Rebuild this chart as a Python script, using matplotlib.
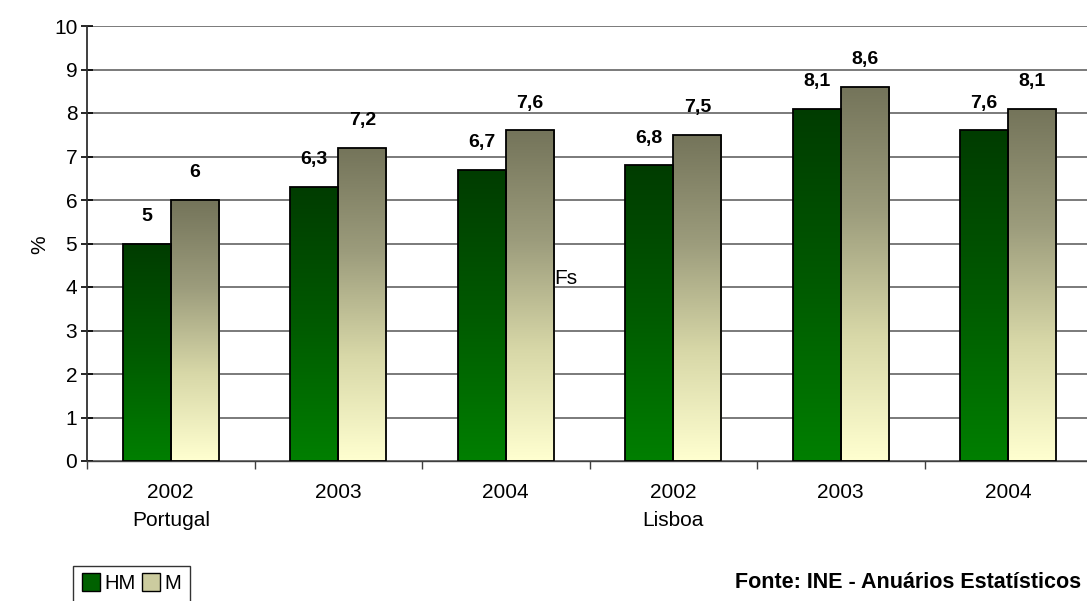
import matplotlib.pyplot as plt
import numpy as np
from matplotlib.colors import LinearSegmentedColormap
from matplotlib.patches import Rectangle
from matplotlib.legend_handler import HandlerBase

plt.rcParams['font.family'] = ['Liberation Sans', 'DejaVu Sans']

# ------------------------------------------------
# DATA
# ------------------------------------------------

years = ['2002', '2003', '2004', '2002', '2003', '2004']
regions = ['Portugal', 'Lisboa']
region_at = [0, 3]
hm = [5.0, 6.3, 6.7, 6.8, 8.1, 7.6]
m = [6.0, 7.2, 7.6, 7.5, 8.6, 8.1]
series = ['HM', 'M']

hm_cmap = LinearSegmentedColormap.from_list('hm', ['#007f00', '#005a00', '#003c00'])
m_cmap = LinearSegmentedColormap.from_list('m', ['#ffffd0', '#d8d8a8', '#9c9c7c', '#74745a'])

fig = plt.figure(figsize=(10.87, 6.01), dpi=100)
ax = fig.add_axes([87 / 1087, 140 / 601, 1005 / 1087, 435 / 601])

bar_w = 0.287
grad = np.linspace(0, 1, 256).reshape(-1, 1)


def gradient_bar(x0, h, cmap):
    im = ax.imshow(grad, cmap=cmap, origin='lower', aspect='auto',
                   extent=[x0, x0 + bar_w, 0, h], zorder=2)
    rect = Rectangle((x0, 0), bar_w, h, facecolor='none',
                     edgecolor='black', linewidth=1.3, zorder=3)
    ax.add_patch(rect)
    im.set_clip_path(rect)


def fmt(v):
    return ('%g' % v).replace('.', ',')


for i, (a, b) in enumerate(zip(hm, m)):
    x_hm = i + 0.5 - bar_w
    x_m = i + 0.5
    gradient_bar(x_hm, a, hm_cmap)
    gradient_bar(x_m, b, m_cmap)
    for x0, v in [(x_hm, a), (x_m, b)]:
        ax.annotate(fmt(v), (x0 + bar_w / 2, v), xytext=(0, 19.5),
                    textcoords='offset points', ha='center', va='center',
                    fontsize=14, fontweight='bold')

# ------------------------------------------------
# AXES
# ------------------------------------------------

ax.set_xlim(0, len(years))
ax.set_ylim(0, 10)
ax.set_yticks(range(0, 11))
ax.tick_params(axis='y', labelsize=15, length=8, width=1.2, direction='inout', pad=3)
ax.yaxis.grid(True, color='#7a7a7a', linewidth=1.4, zorder=0)
ax.set_axisbelow(True)

ax.set_xticks(range(0, len(years) + 1))
ax.set_xticklabels([])
ax.tick_params(axis='x', length=6, width=1, color='#404040')
for i, y in enumerate(years):
    ax.text(i + 0.5, -0.72, y, ha='center', va='center', fontsize=15)
for r, pos in zip(regions, region_at):
    ax.text(pos + 0.5, -1.36, r, ha='center', va='center', fontsize=15)

for side in ['top', 'right']:
    ax.spines[side].set_visible(False)
ax.spines['left'].set_color('#303030')
ax.spines['left'].set_linewidth(1.3)
ax.spines['bottom'].set_color('#404040')
ax.spines['bottom'].set_linewidth(1)

fig.text(40 / 1087, 1 - 245 / 601, '%', rotation=90, ha='center', va='center', fontsize=15)
ax.text(2.79, 4.2, 'Fs', ha='left', va='center', fontsize=15)

# ------------------------------------------------
# LEGEND
# ------------------------------------------------


class GradientSwatch(HandlerBase):
    def __init__(self, cmap):
        super().__init__()
        self.cmap = cmap

    def create_artists(self, legend, orig, xd, yd, w, h, fontsize, trans):
        s = 13
        rect = Rectangle((xd + w - s, yd + (h - s) / 2), s, s,
                         facecolor=self.cmap(0.4), edgecolor='black',
                         linewidth=1, transform=trans)
        return [rect]


h1 = Rectangle((0, 0), 1, 1)
h2 = Rectangle((0, 0), 1, 1)
leg = fig.legend([h1, h2], series, loc='upper left',
                 bbox_to_anchor=(73 / 1087, 1 - 566 / 601), ncol=2, fontsize=14.5,
                 frameon=True, fancybox=False, edgecolor='black',
                 handlelength=0.9, handletextpad=0.25, columnspacing=0.28,
                 borderpad=0.42, borderaxespad=0,
                 handler_map={h1: GradientSwatch(hm_cmap), h2: GradientSwatch(m_cmap)})
leg.get_frame().set_linewidth(1)

fig.text(735 / 1087, 1 - 583 / 601, 'Fonte: INE - Anuários Estatísticos',
         ha='left', va='center', fontsize=15.5, fontweight='bold')

fig.savefig('out.png', dpi=100)
